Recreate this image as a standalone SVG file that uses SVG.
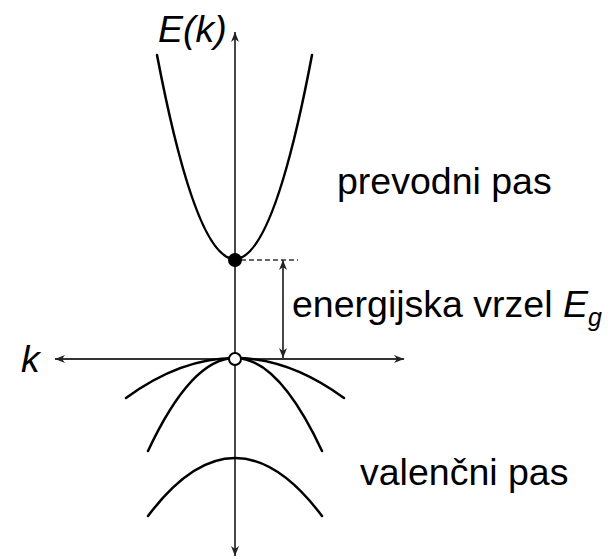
<svg xmlns="http://www.w3.org/2000/svg" width="614" height="559" viewBox="0 0 614 559">
<style>
.band{fill:none;stroke:#000;stroke-width:2.5;stroke-linecap:round}
.axis{fill:none;stroke:#333;stroke-width:1.8}
.lbl{font-family:"Liberation Sans",Arial,sans-serif;font-size:37.5px;fill:#000}
.it{font-style:italic}
</style>
<defs>
<marker id="ah" viewBox="0 0 10 10" refX="10" refY="5" markerWidth="10" markerHeight="10" markerUnits="userSpaceOnUse" orient="auto">
<path d="M0,1 L10,5 L0,9 L3,5 Z" fill="#222"/>
</marker>
</defs>
<g id="connectors">
<line class="axis" x1="235" y1="359" x2="235" y2="32" marker-end="url(#ah)"/>
<line class="axis" x1="235" y1="359" x2="235" y2="556" marker-end="url(#ah)"/>
<line class="axis" x1="235" y1="359" x2="55" y2="359" marker-end="url(#ah)"/>
<line class="axis" x1="235" y1="359" x2="404" y2="359" marker-end="url(#ah)"/>
<line x1="241" y1="260" x2="298" y2="260" stroke="#333" stroke-width="1.6" stroke-dasharray="5,3"/>
<line class="axis" x1="283" y1="300" x2="283" y2="260" marker-end="url(#ah)"/>
<line class="axis" x1="283" y1="300" x2="283" y2="358" marker-end="url(#ah)"/>
</g>
<g id="conduction-band">
<path class="band" d="M157,55 Q235,463 312,55"/>
<circle cx="235" cy="260" r="7" fill="#000"/>
</g>
<g id="valence-bands">
<path class="band" d="M126,398 Q235,318 344,398"/>
<path class="band" d="M148,451 Q235,265 322,451"/>
<path class="band" d="M148,516 Q235,400 322,516"/>
<circle cx="235" cy="359" r="6" fill="#fff" stroke="#000" stroke-width="2"/>
</g>
<g id="labels">
<text class="lbl it" x="158" y="42">E(k)</text>
<text class="lbl it" x="21" y="372">k</text>
<text class="lbl" x="337" y="194">prevodni pas</text>
<text class="lbl" x="292" y="317">energijska vrzel <tspan class="it">E</tspan><tspan class="it" font-size="25" dy="9">g</tspan></text>
<text class="lbl" x="360" y="485">valenčni pas</text>
</g>
</svg>
